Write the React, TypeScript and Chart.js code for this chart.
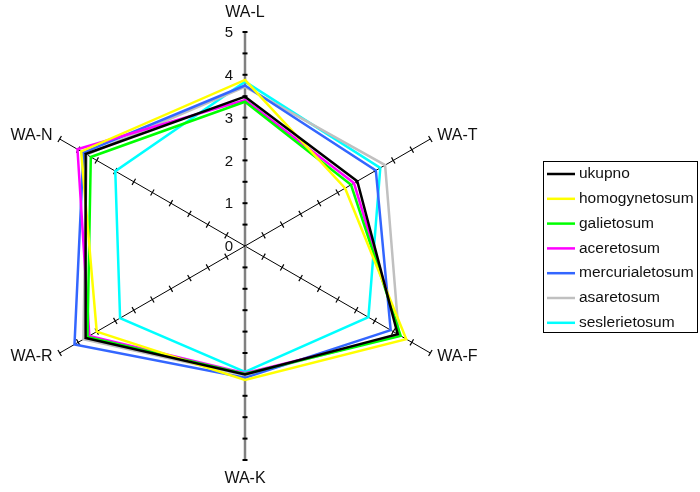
import React, { useEffect, useRef } from "react";
import { Chart, registerables } from "chart.js";

Chart.register(...registerables);

// Radar spokes, clockwise from the top
const axisLabels = ["WA-L", "WA-T", "WA-F", "WA-K", "WA-R", "WA-N"];
const tickLabels = ["0", "1", "2", "3", "4", "5"];
const minorStep = 0.5;

const seriesNames = [
  "ukupno",
  "homogynetosum",
  "galietosum",
  "aceretosum",
  "mercurialetosum",
  "asaretosum",
  "seslerietosum",
];

const ukupno = [3.49, 3.03, 4.12, 3.0, 4.3, 4.3];
const homogynetosum = [3.88, 2.7, 4.35, 3.13, 4.0, 4.42];
const galietosum = [3.37, 2.86, 4.2, 2.99, 4.25, 4.16];
const aceretosum = [3.41, 2.94, 4.18, 2.97, 4.2, 4.52];
const mercurialetosum = [3.75, 3.53, 3.93, 3.08, 4.6, 4.36];
const asaretosum = [3.72, 3.78, 4.15, 3.02, 4.36, 4.27];
const seslerietosum = [3.84, 3.65, 3.33, 2.94, 3.37, 3.5];

const seriesValues = [
  ukupno,
  homogynetosum,
  galietosum,
  aceretosum,
  mercurialetosum,
  asaretosum,
  seslerietosum,
];

const seriesColors = [
  "#000000",
  "#FFFF00",
  "#00FF00",
  "#FF00FF",
  "#3366FF",
  "#C0C0C0",
  "#00FFFF",
];

const FONT = "'Liberation Sans', Arial, sans-serif";

// Spokes with tick marks plus the value and category labels
const axesPlugin = {
  id: "radarAxes",
  beforeDatasetsDraw(chart: any) {
    const s = chart.scales.r;
    const ctx = chart.ctx;
    const maxVal = Number(tickLabels[tickLabels.length - 1]);
    ctx.save();
    axisLabels.forEach((label, i) => {
      const end = s.getPointPositionForValue(i, maxVal);
      const vertical = i === 0 || i === 3;
      ctx.beginPath();
      ctx.strokeStyle = vertical ? "#808080" : "#000000";
      ctx.lineWidth = vertical ? 2.5 : 1;
      ctx.moveTo(s.xCenter, s.yCenter);
      ctx.lineTo(end.x, end.y);
      ctx.stroke();

      // tick marks across the spoke
      ctx.strokeStyle = "#000000";
      ctx.lineWidth = vertical ? 2 : 1.2;
      for (let v = minorStep; v <= maxVal + 1e-9; v += minorStep) {
        const p = s.getPointPositionForValue(i, v);
        const px = -Math.sin(p.angle);
        const py = Math.cos(p.angle);
        const h = vertical ? 2.5 : 3.5;
        ctx.beginPath();
        ctx.moveTo(p.x - px * h, p.y - py * h);
        ctx.lineTo(p.x + px * h, p.y + py * h);
        ctx.stroke();
      }

      // category label
      ctx.fillStyle = "#111111";
      ctx.font = `16px ${FONT}`;
      ctx.textBaseline = "middle";
      if (Math.abs(end.x - s.xCenter) < 1) {
        ctx.textAlign = "center";
        const dy = end.y < s.yCenter ? -19 : 19;
        ctx.fillText(label, end.x, end.y + dy);
      } else {
        const right = end.x > s.xCenter;
        ctx.textAlign = right ? "left" : "right";
        const dy = end.y < s.yCenter ? -3 : 4;
        ctx.fillText(label, end.x + (right ? 7 : -7), end.y + dy);
      }
    });

    // value labels along the first spoke
    ctx.fillStyle = "#111111";
    ctx.font = `15px ${FONT}`;
    ctx.textAlign = "right";
    ctx.textBaseline = "middle";
    tickLabels.forEach((t) => {
      const p = s.getPointPositionForValue(0, Number(t));
      ctx.fillText(t, p.x - 12, p.y + 1);
    });
    ctx.restore();
  },
  afterDraw(chart: any) {
    const ctx = chart.ctx;
    const boxX = 543.5;
    const boxY = 161.5;
    const boxW = 154;
    const boxH = 171;
    ctx.save();
    ctx.strokeStyle = "#000000";
    ctx.lineWidth = 1;
    ctx.strokeRect(boxX, boxY, boxW, boxH);
    ctx.font = `15.5px ${FONT}`;
    ctx.textAlign = "left";
    ctx.textBaseline = "middle";
    chart.data.datasets.forEach((ds: any, k: number) => {
      const y = 174 + k * 24.8;
      ctx.beginPath();
      ctx.strokeStyle = ds.borderColor;
      ctx.lineWidth = 2.5;
      ctx.moveTo(547, y);
      ctx.lineTo(575, y);
      ctx.stroke();
      ctx.fillStyle = "#111111";
      ctx.fillText(ds.label, 579, y);
    });
    ctx.restore();
  },
};

export default function App() {
  const canvasRef = useRef<HTMLCanvasElement | null>(null);

  useEffect(() => {
    document.body.style.margin = "0";
    const canvas = canvasRef.current;
    if (!canvas) return;
    const chart = new Chart(canvas, {
      type: "radar",
      data: {
        labels: axisLabels,
        datasets: seriesNames.map((name, k) => ({
          label: name,
          data: seriesValues[k],
          borderColor: seriesColors[k],
          backgroundColor: "transparent",
          borderWidth: 2.5,
          pointRadius: 0,
          pointHoverRadius: 0,
          fill: false,
          tension: 0,
        })),
      },
      options: {
        responsive: false,
        animation: false,
        layout: { padding: { left: 31, right: 241, top: 32, bottom: 32 } },
        plugins: {
          legend: { display: false },
          tooltip: { enabled: false },
        },
        scales: {
          r: {
            min: 0,
            max: 5,
            ticks: { display: false, stepSize: 1 },
            grid: { display: false },
            angleLines: { display: false },
            pointLabels: { display: false },
          },
        },
      },
      plugins: [axesPlugin],
    });
    return () => chart.destroy();
  }, []);

  return (
    <div style={{ position: "absolute", left: 0, top: 0, width: 700, height: 492, background: "#ffffff" }}>
      <canvas ref={canvasRef} width={700} height={492} />
    </div>
  );
}
